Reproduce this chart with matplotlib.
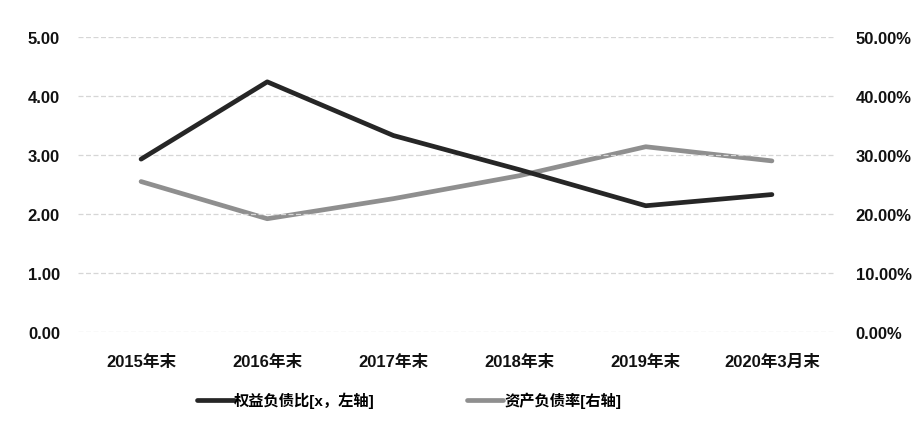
import matplotlib
matplotlib.use("Agg")
import matplotlib.pyplot as plt
from matplotlib.ticker import FuncFormatter, MultipleLocator

plt.rcParams['font.family'] = ['Liberation Sans', 'Noto Sans CJK SC', 'DejaVu Sans']
plt.rcParams['font.weight'] = 'bold'

categories = ['2015年末', '2016年末', '2017年末', '2018年末', '2019年末', '2020年3月末']
equity_debt_ratio = [2.93, 4.24, 3.33, 2.75, 2.14, 2.33]      # left axis (x)
asset_liability_rate = [25.5, 19.2, 22.6, 26.5, 31.4, 29.0]   # right axis (%)

dark = '#262626'
grey = '#8f8f8f'

fig = plt.figure(figsize=(9.18, 4.27), dpi=100)
ax = fig.add_axes([78 / 918, 1 - 333 / 427, (835 - 78) / 918, (333 - 38) / 427])
ax2 = ax.twinx()

x = list(range(len(categories)))
l1, = ax.plot(x, equity_debt_ratio, color=dark, lw=3.4, solid_capstyle='round',
              solid_joinstyle='round', label='权益负债比[x，左轴]', zorder=3)
l2, = ax2.plot(x, asset_liability_rate, color=grey, lw=3.4, solid_capstyle='round',
               solid_joinstyle='round', label='资产负债率[右轴]', zorder=2)

ax.set_xlim(-0.5, len(categories) - 0.5)
ax.set_ylim(0, 5)
ax2.set_ylim(0, 50)
ax.yaxis.set_major_locator(MultipleLocator(1))
ax2.yaxis.set_major_locator(MultipleLocator(10))
ax.yaxis.set_major_formatter(FuncFormatter(lambda v, p: f'{v:.2f}'))
ax2.yaxis.set_major_formatter(FuncFormatter(lambda v, p: f'{v:.2f}%'))

ax.set_xticks(x)
ax.set_xticklabels(categories)
ax.grid(axis='y', color='#d6d6d6', lw=0.9, linestyle=(0, (4, 2)))
ax.set_axisbelow(True)

for a in (ax, ax2):
    for s in a.spines.values():
        s.set_visible(False)
    a.tick_params(length=0, labelsize=12)
ax.tick_params(axis='y', pad=13)
ax.tick_params(axis='x', pad=16)
ax2.tick_params(axis='y', pad=15)
for t in ax.get_xticklabels() + ax.get_yticklabels() + ax2.get_yticklabels():
    t.set_fontweight('bold')
    t.set_color('#111111')

# dark line drawn above the grey one
ax.set_zorder(ax2.get_zorder() + 1)
ax.patch.set_visible(False)

fig.legend([l1, l2], [l1.get_label(), l2.get_label()], loc='center',
           bbox_to_anchor=(409 / 918, 1 - 401 / 427), ncol=2, frameon=False,
           handlelength=2.4, handletextpad=0.05, columnspacing=6.0,
           prop={'weight': 'bold', 'size': 11})

fig.savefig('out.png', dpi=100, facecolor='white')
